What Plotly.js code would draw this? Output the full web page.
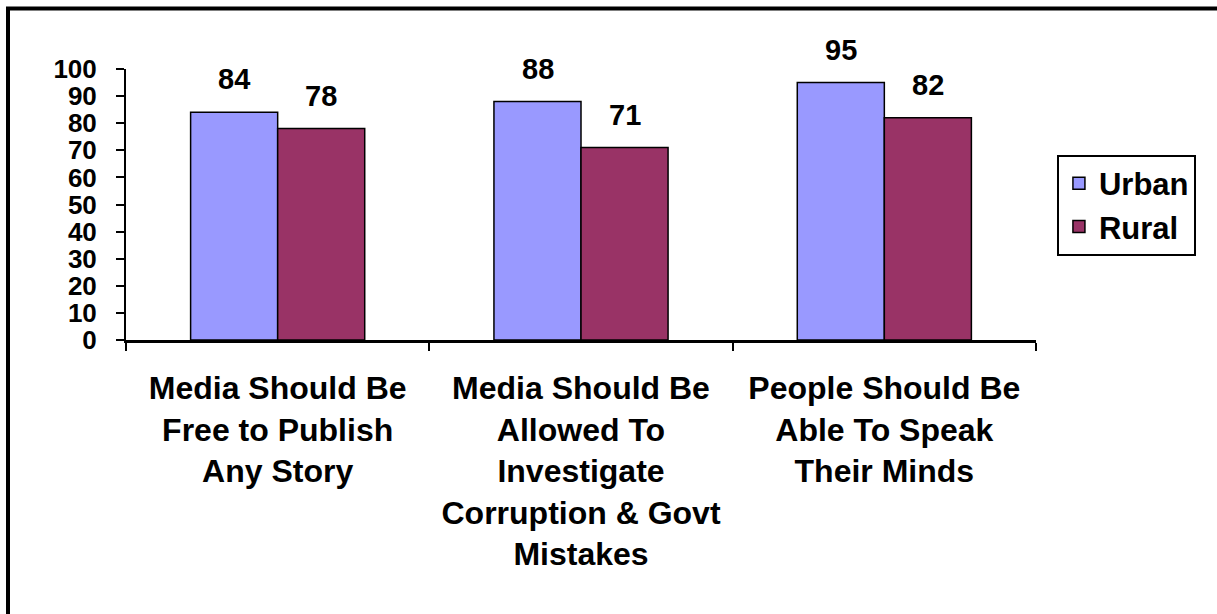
<!DOCTYPE html>
<html>
<head>
<meta charset="utf-8">
<script src="https://cdn.plot.ly/plotly-3.0.1.min.js"></script>
<style>
html,body{margin:0;padding:0;background:#fff;}
#chart{width:1217px;height:614px;}
</style>
</head>
<body>
<div id="chart"></div>
<script>
var categories = [
  "Media Should Be<br>Free to Publish<br>Any Story",
  "Media Should Be<br>Allowed To<br>Investigate<br>Corruption & Govt<br>Mistakes",
  "People Should Be<br>Able To Speak<br>Their Minds"
];
var urbanValues = [84, 88, 95];
var ruralValues = [78, 71, 82];
var seriesNames = ["Urban", "Rural"];
var yTickValues = [0, 10, 20, 30, 40, 50, 60, 70, 80, 90, 100];

var FONT = "Liberation Sans, Arial, Helvetica, sans-serif";

var traces = [
  {
    type: "bar", name: seriesNames[0], x: categories, y: urbanValues,
    marker: {color: "#9999FF", line: {color: "#000000", width: 1.5}},
    legendgroup: "a", hoverinfo: "y"
  },
  {
    type: "bar", name: seriesNames[1], x: categories, y: ruralValues,
    marker: {color: "#993366", line: {color: "#000000", width: 1.5}},
    legendgroup: "b", hoverinfo: "y"
  }
];

var annotations = [];
var series = [urbanValues, ruralValues];
var shifts = [-43.5, 43.5];
for (var s = 0; s < series.length; s++) {
  for (var i = 0; i < categories.length; i++) {
    annotations.push({
      x: categories[i], y: series[s][i], xref: "x", yref: "y",
      text: String(series[s][i]), showarrow: false,
      xshift: shifts[s], yshift: 15, yanchor: "bottom",
      font: {family: FONT, size: 29, color: "#000", weight: 700}
    });
  }
}

var layout = {
  width: 1217, height: 614,
  margin: {l: 126, r: 181, t: 68.5, b: 274, pad: 0},
  paper_bgcolor: "#ffffff", plot_bgcolor: "#ffffff",
  barmode: "group", bargap: 0.426, bargroupgap: 0,
  showlegend: true,
  legend: {
    x: 1.023, y: 0.684, xanchor: "left", yanchor: "top",
    bordercolor: "#000", borderwidth: 2, bgcolor: "#fff",
    font: {family: FONT, size: 31, color: "#000", weight: 700},
    traceorder: "grouped", tracegroupgap: 0, itemwidth: 30
  },
  xaxis: {
    type: "category", tickson: "boundaries",
    showline: true, linecolor: "#000", linewidth: 2.5,
    ticks: "outside", ticklen: 8, tickwidth: 2, tickcolor: "#000",
    showgrid: false, zeroline: false, fixedrange: true,
    ticklabelstandoff: 18,
    tickfont: {family: FONT, size: 32, color: "#000", weight: 700}
  },
  yaxis: {
    range: [0, 100], tickvals: yTickValues, ticktext: yTickValues.map(String),
    showline: true, linecolor: "#000", linewidth: 2,
    ticks: "outside", ticklen: 8, tickwidth: 2, tickcolor: "#000",
    showgrid: false, zeroline: false, fixedrange: true,
    ticklabelstandoff: 14,
    tickfont: {family: FONT, size: 26, color: "#000", weight: 700}
  },
  annotations: annotations,
  shapes: [{
    type: "rect", xref: "paper", yref: "paper",
    x0: (8 - 126) / 910, x1: 1.3, y0: -1.2, y1: (340 - 8) / 271.5,
    line: {color: "#000", width: 4}, fillcolor: "rgba(0,0,0,0)", layer: "below"
  }]
};

Plotly.newPlot("chart", traces, layout, {displayModeBar: false, staticPlot: true});
</script>
</body>
</html>
